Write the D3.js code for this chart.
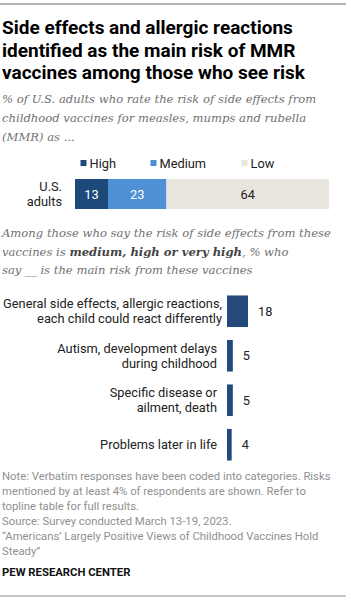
<!DOCTYPE html>
<html>
<head>
<meta charset="utf-8">
<script src="https://cdn.jsdelivr.net/npm/d3@7"></script>
<style>
  body { margin: 0; background: #fff; }
  text { font-family: Roboto, "Liberation Sans", sans-serif; }
</style>
</head>
<body>
<div id="chart"></div>
<script>
// data
const riskLevels = ['High', 'Medium', 'Low'];
const riskValues = [13, 23, 64];
const riskRow = 'U.S. adults';

const mainRisks = [
  ['General side effects, allergic reactions,', 'each child could react differently'],
  ['Autism, development delays', 'during childhood'],
  ['Specific disease or', 'ailment, death'],
  ['Problems later in life']
];
const mainRiskValues = [18, 5, 5, 4];

const titleLines = ['Side effects and allergic reactions',
  'identified as the main risk of MMR',
  'vaccines among those who see risk'];
const subLines = ['% of U.S. adults who rate the risk of side effects from',
  'childhood vaccines for measles, mumps and rubella',
  '(MMR) as ...'];
const noteLines = ['Note: Verbatim responses have been coded into categories. Risks',
  'mentioned by at least 4% of respondents are shown. Refer to',
  'topline table for full results.',
  'Source: Survey conducted March 13-19, 2023.',
  '\u201cAmericans\u2019 Largely Positive Views of Childhood Vaccines Hold',
  'Steady\u201d'];

let width = 351, height = 600;
let svg = d3.select('#chart').append('svg')
  .attr('width', width)
  .attr('height', height);

let colors = d3.scaleOrdinal(riskLevels, ['#1e4a7b', '#4e8fd6', '#e8e5df']);
let navy = '#244a7c';

// top and bottom rules
svg.append('line').attr('x1', 0).attr('x2', 346).attr('y1', 4).attr('y2', 4)
  .attr('stroke', '#9a9a9a').attr('stroke-width', 1.5);
svg.append('line').attr('x1', 0).attr('x2', 346).attr('y1', 596).attr('y2', 596)
  .attr('stroke', '#b5b5b5').attr('stroke-width', 1.5);

// title
svg.selectAll('.title').data(titleLines).enter().append('text')
  .attr('x', 2).attr('y', (d, i) => 34 + i * 22.5)
  .style('font-size', '19px').style('font-weight', 'bold').attr('fill', '#000')
  .text(d => d);

// subtitle
svg.selectAll('.sub').data(subLines).enter().append('text')
  .attr('x', 2).attr('y', (d, i) => 103 + i * 19)
  .style('font-family', '"DejaVu Serif", serif').style('font-style', 'italic')
  .style('font-size', '11.6px').attr('fill', '#707070')
  .text(d => d);

// stacked bar
let x = d3.scaleLinear().domain([0, 100]).range([75, 329]);
let stack = [];
let acc = 0;
riskValues.forEach((v, i) => { stack.push({key: riskLevels[i], x0: acc, x1: acc + v, v: v}); acc += v; });

let legX = [80.5, 150.5, 241.5];
let leg = svg.selectAll('.leg').data(riskLevels).enter().append('g');
leg.append('rect').attr('x', (d, i) => legX[i]).attr('y', 160).attr('width', 6).attr('height', 6)
  .attr('fill', d => colors(d));
leg.append('text').attr('x', (d, i) => legX[i] + 9).attr('y', 167.5)
  .style('font-size', '12.8px').attr('fill', '#222').text(d => d);

svg.selectAll('.seg').data(stack).enter().append('rect')
  .attr('x', d => x(d.x0)).attr('width', d => x(d.x1) - x(d.x0))
  .attr('y', 179).attr('height', 30)
  .attr('fill', d => colors(d.key));
svg.selectAll('.segl').data(stack).enter().append('text')
  .attr('x', d => (x(d.x0) + x(d.x1)) / 2).attr('y', 199)
  .attr('text-anchor', 'middle').style('font-size', '12.8px')
  .attr('fill', d => d.key == 'Low' ? '#222' : '#fff')
  .text(d => d.v);

svg.selectAll('.rowl').data(riskRow.split(' ')).enter().append('text')
  .attr('x', 62).attr('y', (d, i) => 191 + i * 15)
  .attr('text-anchor', 'end').style('font-size', '12.8px').attr('fill', '#222')
  .text(d => d);

// second subtitle
let sub2 = svg.append('text')
  .style('font-family', '"DejaVu Serif", serif').style('font-style', 'italic')
  .style('font-size', '11.6px').attr('fill', '#707070');
sub2.append('tspan').attr('x', 2).attr('y', 237).text('Among those who say the risk of side effects from these');
let l2 = sub2.append('tspan').attr('x', 2).attr('y', 256);
l2.append('tspan').text('vaccines is ');
l2.append('tspan').style('font-weight', 'bold').attr('fill', '#444').text('medium, high or very high');
l2.append('tspan').text(', % who');
sub2.append('tspan').attr('x', 2).attr('y', 274).text('say __ is the main risk from these vaccines');

// main risk bars
let y = d3.scaleBand().domain(d3.range(mainRisks.length)).range([291, 465]).paddingInner(0.29).paddingOuter(0.1);
let xb = d3.scaleLinear().domain([0, 18]).range([227, 248]);

svg.selectAll('.mbar').data(mainRiskValues).enter().append('rect')
  .attr('x', xb(0)).attr('y', (d, i) => y(i))
  .attr('width', d => xb(d) - xb(0)).attr('height', y.bandwidth())
  .attr('fill', navy);
svg.selectAll('.mval').data(mainRiskValues).enter().append('text')
  .attr('x', d => xb(d) + 10).attr('y', (d, i) => y(i) + y.bandwidth() / 2 + 4.5)
  .style('font-size', '12.8px').attr('fill', '#222')
  .text(d => d);

let cat = svg.selectAll('.mcat').data(mainRisks).enter().append('text')
  .attr('text-anchor', 'end').style('font-size', '12.8px').attr('fill', '#222');
cat.each(function(d, i) {
  let t = d3.select(this);
  let mid = y(i) + y.bandwidth() / 2;
  d.forEach((line, j) => {
    t.append('tspan').attr('x', i == 0 ? 222 : 217)
      .attr('y', mid + 4.5 + (j - (d.length - 1) / 2) * 15)
      .text(line);
  });
});

// notes
svg.selectAll('.note').data(noteLines).enter().append('text')
  .attr('x', 2).attr('y', (d, i) => 480 + i * 15)
  .style('font-size', '11.3px').attr('fill', '#909090')
  .text(d => d);

svg.append('text').attr('x', 2).attr('y', 576)
  .style('font-size', '11.3px').style('font-weight', 'bold').attr('fill', '#111')
  .text('PEW RESEARCH CENTER');
</script>
</body>
</html>
